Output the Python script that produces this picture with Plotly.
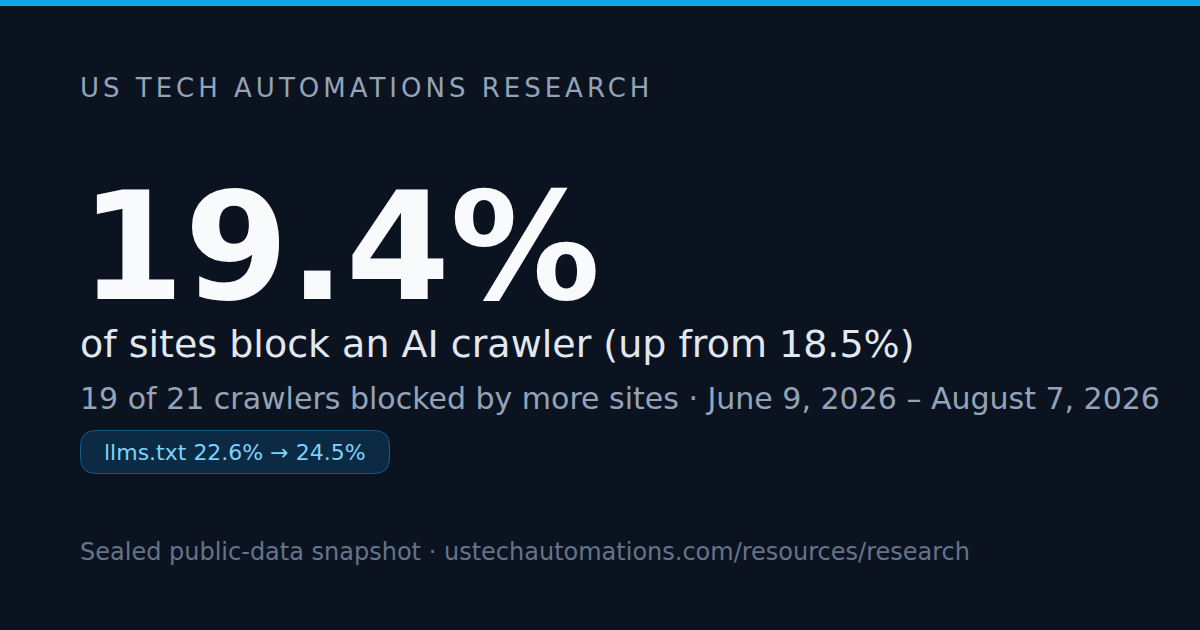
import plotly.graph_objects as go

eyebrow = "US TECH AUTOMATIONS RESEARCH"
headline = "19.4%"
subhead = "of sites block an AI crawler (up from 18.5%)"
detail = "19 of 21 crawlers blocked by more sites · June 9, 2026 – August 7, 2026"
pill = "llms.txt 22.6% → 24.5%"
footer = "Sealed public-data snapshot · ustechautomations.com/resources/research"

F = "DejaVu Sans"
W, H = 1200, 630
fig = go.Figure()
fig.update_layout(
    width=W, height=H, margin=dict(l=0, r=0, t=0, b=0),
    paper_bgcolor="#0b1320", plot_bgcolor="#0b1320", showlegend=False,
    xaxis=dict(visible=False, range=[0, W], fixedrange=True),
    yaxis=dict(visible=False, range=[H, 0], fixedrange=True),
    shapes=[
        dict(type="rect", xref="x", yref="y", x0=0, x1=W, y0=0, y1=6, fillcolor="#0ea5e9", line_width=0),
        dict(type="path", xref="x", yref="y",
             path="M 96 430.5 L 374 430.5 Q 389.5 430.5 389.5 446 L 389.5 458 Q 389.5 473.5 374 473.5 L 96 473.5 Q 80.5 473.5 80.5 458 L 80.5 446 Q 80.5 430.5 96 430.5 Z",
             fillcolor="#0c2a43", line=dict(color="#155a80", width=1)),
    ],
)
def txt(s, x, y, size, color, weight=None, xshift=-2):
    fig.add_annotation(x=x, y=y, xref="x", yref="y", text=s, showarrow=False, xanchor="left", yanchor="middle",
                       xshift=xshift, font=dict(family=F, size=size, color=color, weight=weight))
txt(eyebrow, 80, 88, 26, "#94a3b8", xshift=54)
txt(headline, 80, 247, 150, "#f8fafc", weight=700)
txt(subhead, 80, 344, 38, "#e2e8f0")
txt(detail, 80, 398, 30, "#94a3b8")
txt(pill, 104, 452, 22, "#7dd3fc")
txt(footer, 80, 552, 24, "#64748b")

post = """
document.documentElement.style.margin='0';
document.body.style.margin='0';
document.body.style.background='#0b1320';
document.documentElement.style.overflow='hidden';
var sp={'US TECH AUTOMATIONS RESEARCH':'4px'};
document.querySelectorAll('.annotation-text').forEach(function(t){
  if(sp[t.textContent]) t.style.letterSpacing=sp[t.textContent];
});
"""
fig.write_html("out.html", post_script=post, config={"displayModeBar": False})
